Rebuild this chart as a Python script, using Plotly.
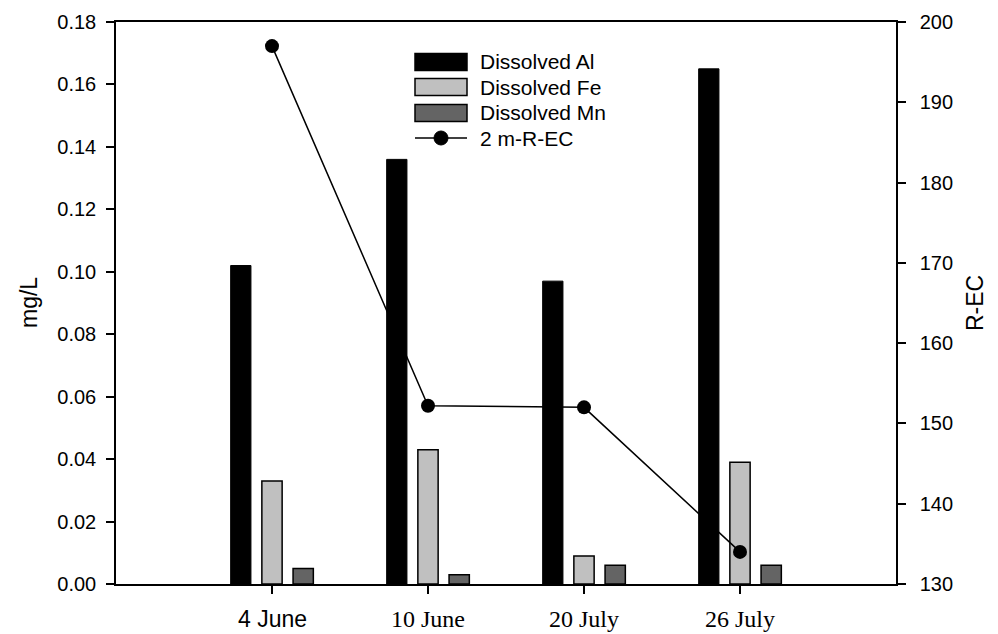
import plotly.graph_objects as go

# Sampling dates and measured concentrations (mg/L)
dates = ["4 June", "10 June", "20 July", "26 July"]
dissolved_al = [0.102, 0.136, 0.097, 0.165]
dissolved_fe = [0.033, 0.043, 0.009, 0.039]
dissolved_mn = [0.005, 0.003, 0.006, 0.006]
# Electrical conductivity at 2 m depth
rec_2m = [197, 152.2, 152.0, 134]

left_ticks = [0.00, 0.02, 0.04, 0.06, 0.08, 0.10, 0.12, 0.14, 0.16, 0.18]
right_ticks = [130, 140, 150, 160, 170, 180, 190, 200]
# right-hand labels are padded with an en space to sit clear of the ticks
right_tick_text = ["\u2002" + str(v) for v in right_ticks]

SANS = "Liberation Sans, Arial, sans-serif"
SERIF = "Liberation Serif, Times New Roman, serif"
# first date label set in sans, the others in serif
date_fonts = [(SANS, 23), (SERIF, 24), (SERIF, 24), (SERIF, 24)]

W, H = 998, 634
L, R, T, B = 116, 896, 22, 584


def px(xp):
    return (xp - L) / (R - L)


def py(yp):
    return (B - yp) / (B - T)


fig = go.Figure()
fig.add_bar(x=dates, y=dissolved_al, name="Dissolved Al",
            marker=dict(color="#000000", line=dict(color="#000000", width=1)))
fig.add_bar(x=dates, y=dissolved_fe, name="Dissolved Fe",
            marker=dict(color="#c0c0c0", line=dict(color="#000000", width=1.5)))
fig.add_bar(x=dates, y=dissolved_mn, name="Dissolved Mn",
            marker=dict(color="#646464", line=dict(color="#000000", width=1.5)))
fig.add_scatter(x=dates, y=rec_2m, name="2 m-R-EC", yaxis="y2", mode="lines+markers",
                line=dict(color="#000000", width=1.5),
                marker=dict(color="#000000", size=14, symbol="circle"))

shapes = []
annotations = []

# date labels under the x ticks
for d, (fam, size) in zip(dates, date_fonts):
    annotations.append(dict(text=d, xref="x", yref="paper", x=d, y=py(619),
                            xanchor="center", yanchor="middle", showarrow=False,
                            font=dict(family=fam, size=size, color="#000000")))

# hand-drawn legend block
legend_rows = [
    ("Dissolved Al", "#000000", 62),
    ("Dissolved Fe", "#c0c0c0", 87),
    ("Dissolved Mn", "#646464", 113),
]
sx0, sx1, tx = 415, 467, 478
for label, color, cy in legend_rows:
    shapes.append(dict(type="rect", xref="paper", yref="paper",
                       x0=px(sx0), x1=px(sx1), y0=py(cy + 8.5), y1=py(cy - 8.5),
                       fillcolor=color, line=dict(color="#000000", width=1.5), layer="above"))
    annotations.append(dict(text=label, xref="paper", yref="paper", x=px(tx), y=py(cy),
                            xanchor="left", yanchor="middle", showarrow=False,
                            font=dict(family=SANS, size=21, color="#000000")))
ecy = 138
shapes.append(dict(type="line", xref="paper", yref="paper",
                   x0=px(sx0), x1=px(sx1), y0=py(ecy), y1=py(ecy),
                   line=dict(color="#000000", width=1.5)))
shapes.append(dict(type="circle", xref="paper", yref="paper",
                   x0=px(441 - 7), x1=px(441 + 7), y0=py(ecy + 7), y1=py(ecy - 7),
                   fillcolor="#000000", line=dict(color="#000000", width=1)))
annotations.append(dict(text="2 m-R-EC", xref="paper", yref="paper", x=px(tx), y=py(ecy),
                        xanchor="left", yanchor="middle", showarrow=False,
                        font=dict(family=SANS, size=21, color="#000000")))

# axis titles
annotations.append(dict(text="mg/L", xref="paper", yref="paper", x=px(29), y=0.5,
                        xanchor="center", yanchor="middle", textangle=-90, showarrow=False,
                        font=dict(family=SANS, size=23, color="#000000")))
annotations.append(dict(text="R-EC", xref="paper", yref="paper", x=px(975), y=0.5,
                        xanchor="center", yanchor="middle", textangle=-90, showarrow=False,
                        font=dict(family=SANS, size=23, color="#000000")))

fig.update_layout(
    width=W, height=H,
    margin=dict(l=L, r=W - R, t=T, b=H - B, pad=0, autoexpand=False),
    paper_bgcolor="#ffffff", plot_bgcolor="#ffffff",
    barmode="group", bargap=0.4, bargroupgap=0.35,
    showlegend=False,
    font=dict(family=SANS, size=20, color="#000000"),
    xaxis=dict(type="category", range=[-1, 4], tickvals=dates, showticklabels=False,
               showline=True, linecolor="#000000", linewidth=1.5, mirror=True,
               ticks="outside", ticklen=8, tickwidth=1.5, tickcolor="#000000",
               showgrid=False, zeroline=False, automargin=False),
    yaxis=dict(range=[0, 0.18], tickvals=left_ticks, tickformat=".2f",
               showline=True, linecolor="#000000", linewidth=1.5,
               ticks="outside", ticklen=8, tickwidth=1.5, tickcolor="#000000",
               showgrid=False, zeroline=False, ticklabelstandoff=6, automargin=False,
               tickfont=dict(family=SANS, size=20)),
    yaxis2=dict(range=[130, 200], tickvals=right_ticks, ticktext=right_tick_text,
                overlaying="y", side="right",
                showline=True, linecolor="#000000", linewidth=1.5,
                ticks="outside", ticklen=8, tickwidth=1.5, tickcolor="#000000",
                showgrid=False, zeroline=False, automargin=False,
                tickfont=dict(family=SANS, size=20)),
    shapes=shapes,
    annotations=annotations,
)

fig.write_html("out.html")
